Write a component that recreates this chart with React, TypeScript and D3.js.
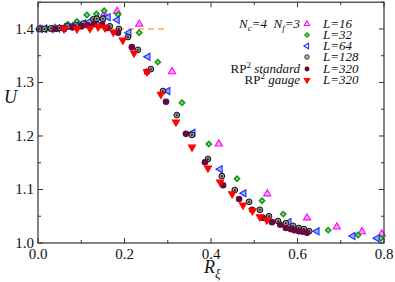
import React from "react";
import * as d3 from "d3";

// L=16
const r16 = [0.005, 0.02, 0.04, 0.062, 0.08, 0.1, 0.125, 0.153, 0.183, 0.234, 0.31, 0.418, 0.53, 0.622, 0.691, 0.749, 0.795];
const u16 = [1.4, 1.4, 1.401, 1.403, 1.404, 1.406, 1.41, 1.428, 1.433, 1.409, 1.32, 1.185, 1.092, 1.047, 1.03, 1.021, 1.017];
// L=32
const r32 = [0.005, 0.02, 0.04, 0.069, 0.09, 0.113, 0.135, 0.153, 0.185, 0.234, 0.277, 0.333, 0.395, 0.46, 0.518, 0.567, 0.671, 0.74, 0.793];
const u32 = [1.4, 1.401, 1.403, 1.409, 1.414, 1.426, 1.428, 1.434, 1.427, 1.393, 1.338, 1.262, 1.185, 1.12, 1.079, 1.054, 1.024, 1.015, 1.009];
// L=64
const r64 = [0.005, 0.015, 0.03, 0.045, 0.06, 0.075, 0.09, 0.105, 0.12, 0.135, 0.15, 0.162, 0.183, 0.21, 0.254, 0.3, 0.358, 0.421, 0.476, 0.58, 0.645, 0.728, 0.784];
const u64 = [1.4, 1.4, 1.4, 1.401, 1.402, 1.404, 1.407, 1.41, 1.414, 1.418, 1.42, 1.422, 1.417, 1.393, 1.348, 1.284, 1.206, 1.138, 1.093, 1.039, 1.022, 1.013, 1.009];
// L=128
const r128 = [0.003, 0.015, 0.03, 0.05, 0.068, 0.087, 0.105, 0.128, 0.136, 0.15, 0.166, 0.187, 0.208, 0.231, 0.261, 0.289, 0.321, 0.356, 0.393, 0.425, 0.455, 0.488, 0.513, 0.534, 0.555, 0.573, 0.59, 0.603, 0.615, 0.627];
const u128 = [1.4, 1.4, 1.401, 1.402, 1.405, 1.407, 1.41, 1.418, 1.419, 1.419, 1.405, 1.4, 1.385, 1.361, 1.325, 1.284, 1.239, 1.202, 1.157, 1.125, 1.099, 1.077, 1.062, 1.05, 1.041, 1.037, 1.032, 1.028, 1.026, 1.022];
// RP2 standard, L=320
const rStd = [0.04, 0.06, 0.08, 0.1, 0.115, 0.13, 0.148, 0.16, 0.185, 0.217, 0.252, 0.296, 0.342, 0.386, 0.428, 0.465, 0.495, 0.52, 0.541, 0.56, 0.573, 0.584, 0.593, 0.603, 0.612, 0.622];
const uStd = [1.4, 1.401, 1.403, 1.405, 1.407, 1.409, 1.408, 1.402, 1.393, 1.366, 1.32, 1.264, 1.204, 1.151, 1.108, 1.082, 1.062, 1.047, 1.039, 1.034, 1.028, 1.026, 1.024, 1.022, 1.021, 1.019];
// RP2 gauge, L=320
const rGauge = [0.06, 0.09, 0.12, 0.139, 0.155, 0.174, 0.196, 0.222, 0.252, 0.284, 0.319, 0.356, 0.393, 0.421, 0.449, 0.474, 0.496, 0.513, 0.529];
const uGauge = [1.4, 1.4, 1.401, 1.404, 1.402, 1.394, 1.379, 1.355, 1.32, 1.278, 1.226, 1.179, 1.14, 1.114, 1.092, 1.071, 1.06, 1.049, 1.043];

const series = [
  { label: "L=16", r: r16, u: u16, shape: "up", stroke: "#ff00ff", fill: "#ffa8ff" },
  { label: "L=32", r: r32, u: u32, shape: "diamond", stroke: "#109a10", fill: "#8ad88a" },
  { label: "L=64", r: r64, u: u64, shape: "left", stroke: "#1a2cff", fill: "#a0aaff" },
  { label: "L=128", r: r128, u: u128, shape: "ring", stroke: "#111", fill: "#909090" },
  { label: "L=320", r: rStd, u: uStd, shape: "dot", stroke: "#5e0a36", fill: "#660a3c" },
  { label: "L=320", r: rGauge, u: uGauge, shape: "down", stroke: "#ff0000", fill: "#ff0000" },
];

const xTicks = [0, 0.2, 0.4, 0.6, 0.8];
const yTicks = [1.0, 1.1, 1.2, 1.3, 1.4];

const W = 395;
const H = 282;
const x = d3.scaleLinear().domain([0, 0.8]).range([38, 384]);
const y = d3.scaleLinear().domain([1.0, 1.45]).range([243, 2.2]);

const SERIF = "'Liberation Serif', 'Times New Roman', Times, serif";

const tri = d3.symbol().type(d3.symbolTriangle);
const sq = d3.symbol().type(d3.symbolSquare);

function Marker({ shape, stroke, fill, cx, cy, s = 1 }: any) {
  if (shape === "up" || shape === "left" || shape === "down") {
    const rot = shape === "up" ? 0 : shape === "left" ? -90 : 180;
    return (
      <path
        d={tri.size(22 * s * s)() as string}
        transform={`translate(${cx},${cy}) rotate(${rot})`}
        fill={fill}
        stroke={stroke}
        strokeWidth={1.1}
      />
    );
  }
  if (shape === "diamond") {
    return (
      <path
        d={sq.size(14 * s * s)() as string}
        transform={`translate(${cx},${cy}) rotate(45)`}
        fill={fill}
        stroke={stroke}
        strokeWidth={1.5}
      />
    );
  }
  if (shape === "ring") {
    return (
      <g>
        <circle cx={cx} cy={cy} r={2.9 * s} fill={fill} stroke={stroke} strokeWidth={1} />
        <circle cx={cx} cy={cy} r={0.9 * s} fill="#111" />
      </g>
    );
  }
  return <circle cx={cx} cy={cy} r={3.3 * s} fill={fill} />;
}

function T(props: any) {
  return <text fill="#111" {...props} style={{ fontFamily: SERIF }} />;
}

export default function App() {
  const legendY = [24, 35, 46, 57, 69, 80];
  return (
    <svg width={W} height={H} style={{ position: "absolute", left: 0, top: 0, background: "#fff" }}>
      {/* dashed reference line */}
      <line x1={x(0)} x2={x(0.3)} y1={y(1.4)} y2={y(1.4)} stroke="#ffb040" strokeWidth={1.6} strokeDasharray="6,4" />

      {series.map((s, i) => (
        <g key={i}>
          {s.r.map((rv, j) => (
            <Marker key={j} shape={s.shape} stroke={s.stroke} fill={s.fill} cx={x(rv)} cy={y(s.u[j])} />
          ))}
        </g>
      ))}

      {/* frame */}
      <rect x={x(0)} y={y(1.45)} width={x(0.8) - x(0)} height={y(1.0) - y(1.45)} fill="none" stroke="#333" strokeWidth={1.2} />

      {/* ticks */}
      {d3.range(0, 9).map((k) => {
        const v = k * 0.1;
        const len = k % 2 === 0 ? 5 : 3;
        return (
          <g key={"xt" + k} stroke="#333" strokeWidth={1}>
            <line x1={x(v)} x2={x(v)} y1={y(1.0)} y2={y(1.0) - len} />
            <line x1={x(v)} x2={x(v)} y1={y(1.45)} y2={y(1.45) + len} />
          </g>
        );
      })}
      {d3.range(0, 10).map((k) => {
        const v = 1.0 + k * 0.05;
        const len = k % 2 === 0 ? 5 : 3;
        return (
          <g key={"yt" + k} stroke="#333" strokeWidth={1}>
            <line x1={x(0)} x2={x(0) + len} y1={y(v)} y2={y(v)} />
            <line x1={x(0.8)} x2={x(0.8) - len} y1={y(v)} y2={y(v)} />
          </g>
        );
      })}
      {xTicks.map((v) => (
        <T key={"xl" + v} x={x(v)} y={259} textAnchor="middle" fontSize={15}>
          {d3.format(".1f")(v)}
        </T>
      ))}
      {yTicks.map((v) => (
        <T key={"yl" + v} x={34} y={y(v) + 5} textAnchor="end" fontSize={15}>
          {d3.format(".1f")(v)}
        </T>
      ))}

      {/* axis labels */}
      <T x={4} y={103} fontSize={18} fontStyle="italic">U</T>
      <T x={204} y={273} fontSize={18} fontStyle="italic">
        R<tspan fontSize={13} dy={5}>ξ</tspan>
      </T>

      {/* legend */}
      <T x={300} y={legendY[0] + 4} textAnchor="end" fontSize={13} fontStyle="italic">
        N<tspan fontSize={9} dy={3}>c</tspan>
        <tspan dy={-3}>{"=4\u00a0\u00a0N"}</tspan>
        <tspan fontSize={9} dy={3}>f</tspan>
        <tspan dy={-3}>=3</tspan>
      </T>
      <T x={300} y={legendY[4] + 4} textAnchor="end" fontSize={13}>
        RP<tspan fontSize={9} dy={-5}>2</tspan>
        <tspan dy={5} fontStyle="italic">{"\u00a0standard"}</tspan>
      </T>
      <T x={300} y={legendY[5] + 4} textAnchor="end" fontSize={13}>
        RP<tspan fontSize={9} dy={-5}>2</tspan>
        <tspan dy={5} fontStyle="italic">{"\u00a0gauge"}</tspan>
      </T>
      {series.map((s, i) => (
        <g key={"lg" + i}>
          <Marker shape={s.shape} stroke={s.stroke} fill={s.shape === "dot" || s.shape === "down" ? s.fill : "#fff"} cx={307} cy={legendY[i]} s={0.75} />
          <T x={323} y={legendY[i] + 4} fontSize={13} fontStyle="italic">{s.label}</T>
        </g>
      ))}
    </svg>
  );
}
